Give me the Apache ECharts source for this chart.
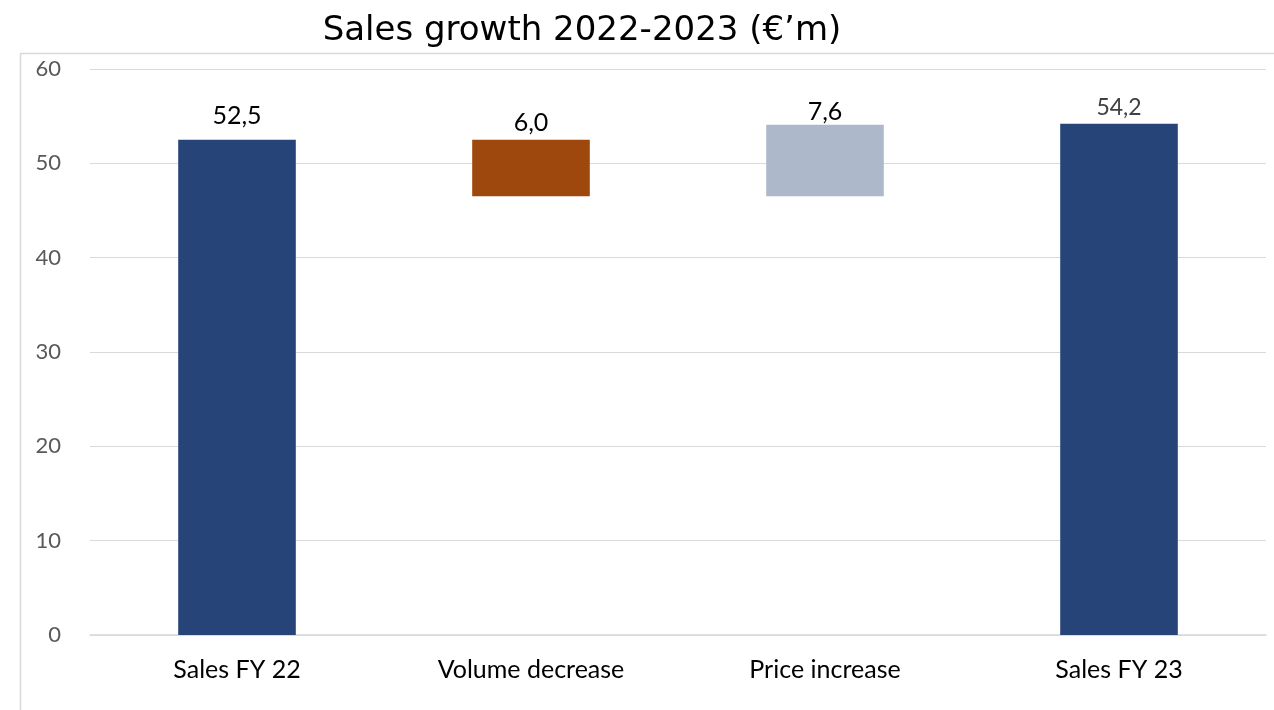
<!DOCTYPE html>
<html>
<head>
<meta charset="utf-8">
<script src="https://cdn.jsdelivr.net/npm/echarts@6/dist/echarts.min.js"></script>
<style>
  html, body { margin: 0; padding: 0; background: #fff; }
  #chart { width: 1274px; height: 710px; }
</style>
</head>
<body>
<div id="chart"></div>
<script>
// Bridge from FY 22 to FY 23 sales, in € millions
const categories = ['Sales FY 22', 'Volume decrease', 'Price increase', 'Sales FY 23'];
const stepValues = [52.5, 6.0, 7.6, 54.2];
const stepKinds = ['total', 'down', 'up', 'total'];
const yTicks = [0, 10, 20, 30, 40, 50, 60];

const colours = { total: '#264478', down: '#9E480E', up: '#ADB9CA' };

// Running level of the bridge: floating bars sit on an invisible base
const baseValues = [];
let level = 0;
stepValues.forEach((v, i) => {
  const kind = stepKinds[i];
  if (kind === 'total') { baseValues.push(0); level = v; }
  else if (kind === 'down') { level -= v; baseValues.push(level); }
  else { baseValues.push(level); level += v; }
});

const fmt = v => v.toFixed(1).replace('.', ',');

// per-bar label tweaks (gap above the bar, final total in grey)
const labelTweaks = [
  { distance: 11 },
  { distance: 4 },
  { distance: 0 },
  { distance: 5, color: '#404040', fontSize: 23 }
];

const chart = echarts.init(document.getElementById('chart'), null, { renderer: 'canvas' });
chart.setOption({
  animation: false,
  backgroundColor: '#ffffff',
  title: {
    text: 'Sales growth 2022-2023 (€’m)',
    left: 577, top: 9, textAlign: 'center',
    textStyle: { fontFamily: 'DejaVu Sans', fontWeight: 'normal', fontSize: 34, color: '#000' }
  },
  graphic: [
    { type: 'polyline', silent: true,
      shape: { points: [[20.5, 712], [20.5, 53.5], [1276, 53.5]] },
      style: { stroke: '#d9d9d9', lineWidth: 1.5, fill: null } }
  ],
  grid: { left: 90, right: 8, top: 69, bottom: 75 },
  xAxis: {
    type: 'category',
    data: categories,
    axisLine: { show: true, lineStyle: { color: '#d9d9d9', width: 1.5 } },
    axisTick: { show: false },
    axisLabel: { color: '#000', fontFamily: 'Lato', fontSize: 25, margin: 22 }
  },
  yAxis: {
    type: 'value',
    min: yTicks[0], max: yTicks[yTicks.length - 1], interval: yTicks[1] - yTicks[0],
    axisLine: { show: false },
    axisTick: { show: false },
    axisLabel: { color: '#595959', fontFamily: 'Lato', fontSize: 22, margin: 29 },
    splitLine: { lineStyle: { color: '#d9d9d9', width: 1.2 } }
  },
  series: [
    {
      name: 'base', type: 'bar', stack: 'bridge', silent: true,
      data: baseValues,
      itemStyle: { color: 'transparent' },
      barWidth: '40%'
    },
    {
      name: 'step', type: 'bar', stack: 'bridge',
      barWidth: '40%',
      data: stepValues.map((v, i) => ({
        value: v,
        itemStyle: { color: colours[stepKinds[i]] },
        label: labelTweaks[i]
      })),
      label: {
        show: true, position: 'top',
        fontFamily: 'Lato', fontSize: 25, color: '#000',
        formatter: p => fmt(p.value)
      }
    }
  ]
});
</script>
</body>
</html>
